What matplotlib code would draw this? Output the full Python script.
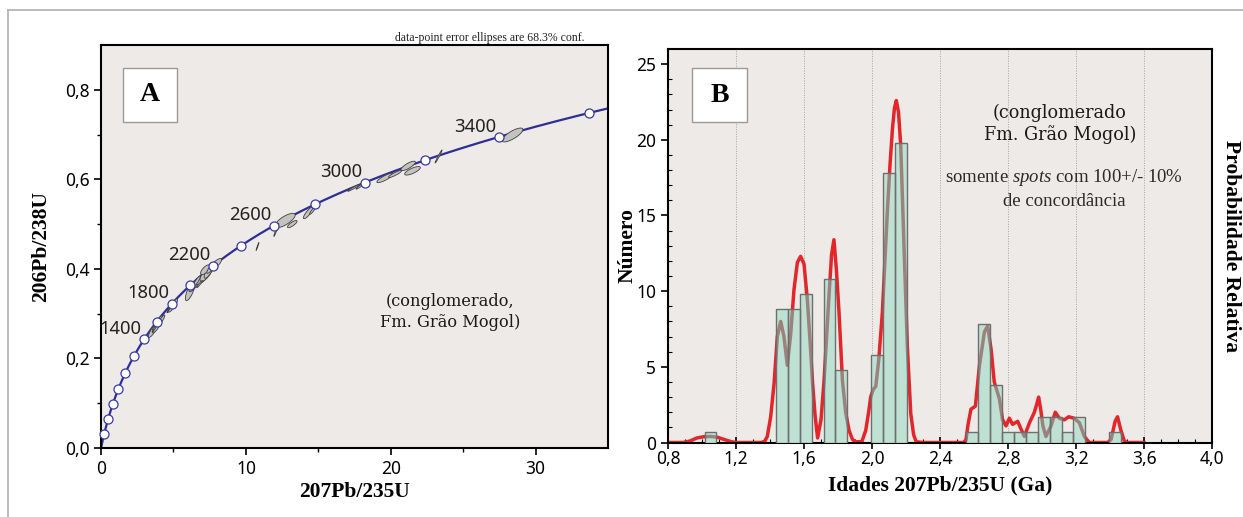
import numpy as np
import matplotlib
matplotlib.use("Agg")
import matplotlib.pyplot as plt
from matplotlib.patches import Rectangle
from matplotlib.path import Path
from matplotlib.lines import Line2D

plt.rcParams['mathtext.fontset'] = 'custom'
plt.rcParams['mathtext.rm'] = 'Liberation Serif'
plt.rcParams['mathtext.it'] = 'Liberation Serif:italic'

# ---- panel A: concordia (ages in Ma) ----
lam238 = 1.55125e-10
lam235 = 9.8485e-10
marker_ages = [200, 400, 600, 800, 1000, 1200, 1400, 1600, 1800, 2000, 2200,
               2400, 2600, 2800, 3000, 3200, 3400, 3600]
label_ages = [1400, 1800, 2200, 2600, 3000, 3400]

# error ellipses: centre x, centre y, sx, sy, rho
ell_x = [3.6, 3.9, 4.15, 3.75, 4.95, 4.7, 6.15, 6.4, 7.0, 7.25, 7.45, 7.9, 7.2, 6.8,
         7.6, 6.6, 10.8, 12.7, 12.1, 13.2, 14.3, 14.6, 17.45, 17.9, 19.6, 20.3, 21.2,
         21.5, 23.3, 28.4]
ell_y = [0.263, 0.276, 0.285, 0.270, 0.318, 0.310, 0.350, 0.362, 0.378, 0.388, 0.395, 0.410,
         0.398, 0.366, 0.402, 0.372, 0.450, 0.508, 0.487, 0.500, 0.525, 0.530, 0.581, 0.585,
         0.603, 0.612, 0.630, 0.619, 0.651, 0.699]
ell_sx = [0.33, 0.37, 0.25, 0.21, 0.33, 0.15, 0.33, 0.33, 0.42, 0.42, 0.33, 0.42, 0.33, 0.20,
          0.30, 0.25, 0.10, 0.70, 0.17, 0.33, 0.33, 0.20, 0.42, 0.30, 0.56, 0.45, 0.50,
          0.54, 0.24, 0.72]
ell_sy = [0.016, 0.019, 0.012, 0.011, 0.0148, 0.008, 0.021, 0.013, 0.013, 0.016, 0.016, 0.013,
          0.011, 0.008, 0.012, 0.012, 0.009, 0.016, 0.0145, 0.008, 0.013, 0.008, 0.0078, 0.007,
          0.0105, 0.008, 0.0105, 0.0095, 0.0145, 0.0155]
ell_rho = [0.85, 0.85, 0.9, 0.97, 0.85, 0.97, 0.75, 0.8, 0.8, 0.75, 0.8, 0.8, 0.7, 0.95,
           0.85, 0.9, 0.98, 0.75, 0.97, 0.8, 0.85, 0.9, 0.97, 0.95, 0.85, 0.9, 0.8, 0.75,
           0.98, 0.78]

# ---- panel B: histogram + probability curve (ages in Ga) ----
bin_width = 0.07
bin_left = [1.015, 1.435, 1.505, 1.575, 1.715, 1.785, 1.995, 2.065, 2.135,
            2.555, 2.625, 2.695, 2.765, 2.835, 2.905, 2.975, 3.045, 3.115, 3.185, 3.395]
counts = [0.7, 8.8, 8.8, 9.8, 10.8, 4.8, 5.8, 17.8, 19.8,
          0.7, 7.8, 3.8, 0.7, 0.7, 0.7, 1.7, 1.7, 0.7, 1.7, 0.7]

pdp_age = [0.80, 0.89, 0.93, 0.97, 1.01, 1.05, 1.09, 1.13, 1.17, 1.20, 1.35, 1.37,
           1.384, 1.404, 1.424, 1.443, 1.463, 1.482, 1.502, 1.522, 1.541, 1.561, 1.580,
           1.600, 1.620, 1.639, 1.650, 1.665, 1.680, 1.700, 1.718, 1.733, 1.747, 1.762,
           1.776, 1.790, 1.806, 1.826, 1.845, 1.865, 1.885, 1.904, 1.940, 1.963, 1.980,
           1.992, 2.007, 2.022, 2.040, 2.061, 2.075, 2.090, 2.105, 2.120, 2.132, 2.143,
           2.156, 2.169, 2.188, 2.208, 2.228, 2.245, 2.260, 2.300, 2.540, 2.553, 2.565,
           2.582, 2.608, 2.632, 2.661, 2.680, 2.700, 2.719, 2.749, 2.768, 2.788, 2.808,
           2.827, 2.857, 2.876, 2.896, 2.926, 2.955, 2.968, 2.980, 2.992, 3.005, 3.023,
           3.053, 3.078, 3.102, 3.131, 3.157, 3.190, 3.220, 3.249, 3.278, 3.386, 3.406,
           3.430, 3.444, 3.464, 3.484, 3.500, 3.600]
pdp_val = [0.0, 0.0, 0.1, 0.3, 0.38, 0.4, 0.35, 0.2, 0.06, 0.0, 0.0, 0.1,
           0.4, 1.7, 3.9, 7.0, 8.0, 7.0, 5.1, 7.2, 10.1, 11.9, 12.3,
           11.8, 9.4, 6.1, 4.0, 1.8, 0.3, 1.5, 4.1, 7.0, 9.7, 12.4,
           13.4, 11.5, 8.6, 4.1, 2.0, 0.8, 0.2, 0.05, 0.05, 0.8, 2.0,
           3.0, 3.5, 3.7, 5.5, 8.6, 11.8, 15.2, 18.2, 20.7, 22.1, 22.6,
           21.8, 19.6, 13.0, 6.3, 1.9, 0.5, 0.05, 0.0, 0.0, 0.2, 1.2,
           2.2, 2.4, 5.1, 7.3, 7.7, 6.2, 4.0, 2.9, 1.5, 1.1, 1.6,
           1.2, 1.4, 0.9, 0.4, 1.3, 2.0, 2.5, 3.0, 2.2, 1.1, 0.4,
           1.1, 2.0, 1.6, 1.5, 1.7, 1.6, 1.3, 0.4, 0.0, 0.0, 0.2,
           1.4, 1.7, 0.8, 0.1, 0.0, 0.0]

bg = '#eeeae7'
tick_font = 'Noto Sans'
lab_font = 'Liberation Serif'
txt_font = 'DejaVu Serif'

fig = plt.figure(figsize=(12.43, 5.17), dpi=100)

# ================= panel A =================
ax1 = fig.add_axes([0.0813, 0.1335, 0.4079, 0.7795])
ax1.set_facecolor(bg)
t = np.linspace(0, 3800, 500) * 1e6
ax1.plot(np.exp(lam235 * t) - 1, np.exp(lam238 * t) - 1, color='#2e2e96', lw=1.6, zorder=2)

for cx, cy, sx, sy, r in zip(ell_x, ell_y, ell_sx, ell_sy, ell_rho):
    a = np.linspace(0, 2 * np.pi, 60)
    ex = cx + sx * np.cos(a)
    ey = cy + sy * (r * np.cos(a) + np.sqrt(1 - r ** 2) * np.sin(a))
    ax1.fill(ex, ey, facecolor='#c3c2bf', edgecolor='#3f3f3f', lw=0.6, zorder=3)

ma = np.array(marker_ages) * 1e6
ax1.plot(np.exp(lam235 * ma) - 1, np.exp(lam238 * ma) - 1, 'o', ms=6.5,
         mfc='white', mec='#3a3aa8', mew=0.9, zorder=4, clip_on=False)
for age in label_ages:
    ta = age * 1e6
    ax1.annotate(str(age), (np.exp(lam235 * ta) - 1, np.exp(lam238 * ta) - 1),
                 xytext=(-2, 1), textcoords='offset points', ha='right', va='bottom',
                 fontsize=13.3, family=tick_font, color='#222222', zorder=5)

ax1.set_xlim(0, 35)
ax1.set_ylim(0, 0.9)
ax1.set_xticks([0, 10, 20, 30])
ax1.set_xticks([5, 15, 25], minor=True)
ax1.set_yticks([0, 0.2, 0.4, 0.6, 0.8])
ax1.set_yticklabels(['0,0', '0,2', '0,4', '0,6', '0,8'])
ax1.set_yticks([0.1, 0.3, 0.5, 0.7], minor=True)
ax1.tick_params(which='major', direction='out', length=5, width=1.2, labelsize=12.5)
ax1.tick_params(which='minor', direction='out', length=3, width=1)
for lbl in ax1.get_xticklabels() + ax1.get_yticklabels():
    lbl.set_family(tick_font)
for s in ax1.spines.values():
    s.set_linewidth(1.5)
ax1.set_xlabel('207Pb/235U', family=lab_font, fontweight='bold', fontsize=15.5, labelpad=3)
ax1.set_ylabel('206Pb/238U', family=lab_font, fontweight='bold', fontsize=15.5, labelpad=10)

ax1.text(24.1, 0.303, '(conglomerado,\nFm. Grão Mogol)', ha='center', va='center',
         family=txt_font, fontsize=11.7, linespacing=1.3, color='#1a1a1a')
ax1.add_patch(Rectangle((0.0424, 0.809), 0.1076, 0.134, transform=ax1.transAxes,
                        facecolor='white', edgecolor='#9a9a9a', lw=1, zorder=6))
ax1.text(0.0966, 0.876, 'A', transform=ax1.transAxes, ha='center', va='center',
         family=lab_font, fontweight='bold', fontsize=20, zorder=7)
fig.text(0.4706, 0.9265, 'data-point error ellipses are 68.3% conf.', ha='right', va='center',
         family=lab_font, fontsize=8.5, color='#222222')

# ================= panel B =================
ax2 = fig.add_axes([0.5374, 0.1441, 0.4377, 0.7611])
ax2.set_facecolor(bg)
for gx in [1.2, 1.6, 2.0, 2.4, 2.8, 3.2, 3.6]:
    ax2.axvline(gx, color='#a8a2a0', lw=0.7, ls=(0, (1, 1.5)), zorder=1)

ax2.plot(pdp_age, pdp_val, color='#e3262a', lw=2.5, zorder=2, solid_joinstyle='round')
ax2.bar(bin_left, counts, width=bin_width, align='edge', color='#bfe1d4',
        edgecolor='none', zorder=3)
verts, codes = [], []
for l, h in zip(bin_left, counts):
    verts += [(l, 0), (l + bin_width, 0), (l + bin_width, h), (l, h), (l, 0)]
    codes += [Path.MOVETO, Path.LINETO, Path.LINETO, Path.LINETO, Path.CLOSEPOLY]
inner, = ax2.plot(pdp_age, pdp_val, color='#9c827d', lw=2.5, zorder=4, solid_joinstyle='round')
inner.set_clip_path(Path(verts, codes), ax2.transData)
ax2.bar(bin_left, counts, width=bin_width, align='edge', facecolor='none',
        edgecolor='#6e6e6e', lw=1.0, zorder=5)

ax2.set_xlim(0.8, 4.0)
ax2.set_ylim(0, 26)
xt = [0.8, 1.2, 1.6, 2.0, 2.4, 2.8, 3.2, 3.6, 4.0]
ax2.set_xticks(xt)
ax2.set_xticklabels([f'{v:.1f}'.replace('.', ',') for v in xt])
ax2.set_xticks(np.arange(0.9, 4.0, 0.1), minor=True)
ax2.set_yticks([0, 5, 10, 15, 20, 25])
ax2.set_yticks(np.arange(1, 26, 1), minor=True)
ax2.tick_params(axis='x', which='major', direction='inout', length=9, width=1.2,
                labelsize=12.5, pad=1)
ax2.tick_params(axis='y', which='major', direction='out', length=5, width=1.2, labelsize=12.5)
ax2.tick_params(which='minor', direction='in', length=3, width=0.8)
for lbl in ax2.get_xticklabels() + ax2.get_yticklabels():
    lbl.set_family(tick_font)
for s in ax2.spines.values():
    s.set_linewidth(1.5)
ax2.set_xlabel('Idades 207Pb/235U (Ga)', family=lab_font, fontweight='bold', fontsize=15.5, labelpad=5)
ax2.set_ylabel('Número', family=lab_font, fontweight='bold', fontsize=15.5, labelpad=-1)
ax2.text(1.035, 0.5, 'Probabilidade Relativa', transform=ax2.transAxes, rotation=-90,
         ha='center', va='center', family=lab_font, fontweight='bold', fontsize=15.5)

ax2.text(3.105, 21.05, '(conglomerado\nFm. Grão Mogol)', ha='center', va='center',
         family=txt_font, fontsize=12.7, linespacing=1.2, color='#1a1a1a')
ax2.text(3.13, 16.8, 'somente $\\it{spots}$ com 100+/- 10%\nde concordância', ha='center',
         va='center', family=lab_font, fontsize=13.5, linespacing=1.35, color='#2a2a2a')
ax2.add_patch(Rectangle((0.0441, 0.8145), 0.1011, 0.1372, transform=ax2.transAxes,
                        facecolor='white', edgecolor='#9a9a9a', lw=1, zorder=6))
ax2.text(0.0947, 0.883, 'B', transform=ax2.transAxes, ha='center', va='center',
         family=lab_font, fontweight='bold', fontsize=20, zorder=7)

# thin frame around the figure (top and left)
fig.add_artist(Line2D([8 / 1243, 1.0], [1 - 9.5 / 517] * 2, color='#b5b5b5', lw=1.3))
fig.add_artist(Line2D([8 / 1243] * 2, [0.0, 1 - 9.5 / 517], color='#b5b5b5', lw=1.3))

fig.savefig('out.png', dpi=100)
